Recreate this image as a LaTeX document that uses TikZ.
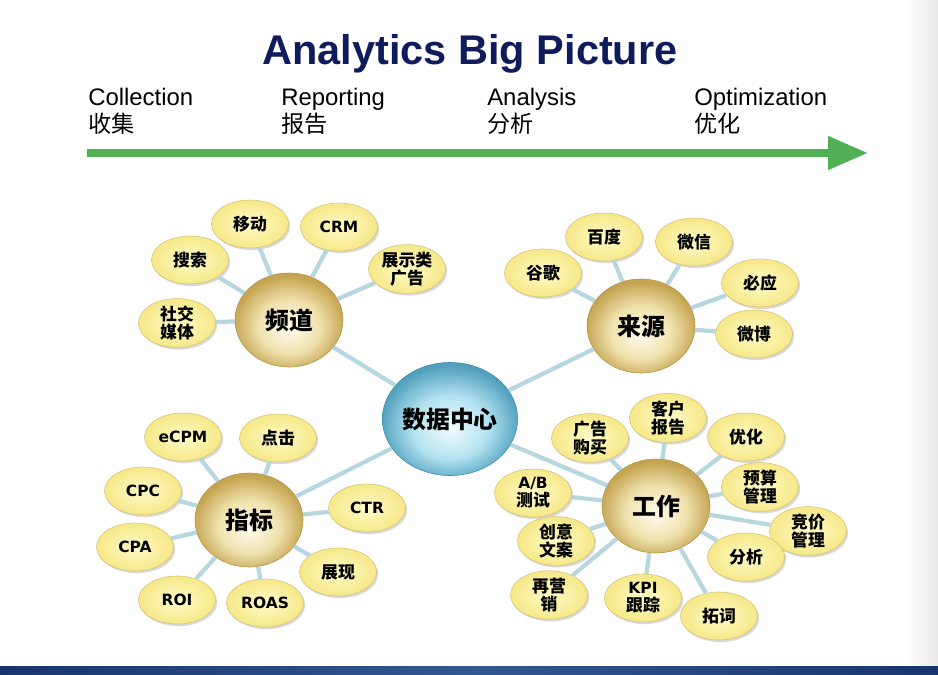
\documentclass[tikz,border=0pt]{standalone}
\usepackage{fontspec}
\setmainfont{Liberation Sans}
\newfontfamily\cjk{Noto Sans CJK SC}
\newfontfamily\verd{DejaVu Sans}
\usetikzlibrary{arrows.meta,shapes.geometric,shadows}
\definecolor{titleblue}{RGB}{14,28,92}
\definecolor{arrowgreen}{RGB}{82,176,84}
\definecolor{linkblue}{RGB}{182,214,224}
\definecolor{leafin}{RGB}{255,250,200}
\definecolor{leafout}{RGB}{246,232,136}
\definecolor{leafline}{RGB}{212,194,118}
\definecolor{gold0}{RGB}{255,251,238}
\definecolor{gold1}{RGB}{240,226,174}
\definecolor{gold2}{RGB}{196,164,80}
\definecolor{goldline}{RGB}{176,146,66}
\definecolor{blue0}{RGB}{240,251,253}
\definecolor{blue1}{RGB}{178,226,240}
\definecolor{blue2}{RGB}{80,160,190}
\definecolor{blueline}{RGB}{62,136,166}
\definecolor{band1}{RGB}{24,52,110}
\definecolor{band2}{RGB}{50,88,146}
\pgfdeclareradialshading{goldball}{\pgfpoint{0bp}{-5bp}}{color(0bp)=(gold0); color(14bp)=(gold1); color(26bp)=(gold2); color(50bp)=(gold2)}
\pgfdeclareradialshading{blueball}{\pgfpoint{0bp}{-5bp}}{color(0bp)=(blue0); color(14bp)=(blue1); color(26bp)=(blue2); color(50bp)=(blue2)}
\newcommand{\lat}[1]{{\verd\bfseries\fontsize{11}{13}\selectfont #1}}
\tikzset{
>=Stealth,
leaf/.style={ellipse,draw=leafline,thin,inner sep=0pt,minimum width=1.925cm,minimum height=1.2cm,
  inner color=leafin,outer color=leafout,drop shadow={shadow xshift=1.2pt,shadow yshift=-1.5pt,opacity=0.3},
  align=center,font=\cjk\bfseries\fontsize{12}{13}\selectfont},
hub/.style={ellipse,draw=goldline,inner sep=0pt,minimum width=2.7cm,minimum height=2.35cm,
  shading=goldball,font=\cjk\bfseries\fontsize{17}{20}\selectfont},
core/.style={ellipse,draw=blueline,inner sep=0pt,minimum width=3.25cm,minimum height=2.825cm,
  shading=blueball,font=\cjk\bfseries\fontsize{17}{20}\selectfont},
link/.style={line width=3pt,draw=linkblue},
stage/.style={anchor=base west,inner sep=0pt,font=\fontsize{17}{20}\selectfont},
stagecn/.style={anchor=base west,inner sep=0pt,font=\cjk\fontsize{16.5}{20}\selectfont},
flow/.style={line width=5.5pt,draw=arrowgreen,-{Triangle[length=1cm,width=0.8cm]}}}

\begin{document}
\begin{tikzpicture}[x=0.025cm,y=-0.025cm]
\useasboundingbox (0,0) rectangle (938,675);
\shade[left color=white,right color=black!9] (906,0) rectangle (938,666);
\shade[left color=band1,right color=band1,middle color=band2] (0,666) rectangle (938,675);

\node[anchor=base,inner sep=0pt,text=titleblue,font=\bfseries\fontsize{29.5}{34}\selectfont] (title) at (470,65) {Analytics Big Picture};

\node[stage] (col) at (88,106) {Collection};
\node[stage] (rep) at (281,106) {Reporting};
\node[stage] (ana) at (487,106) {Analysis};
\node[stage] (opt) at (694,106) {Optimization};
\node[stagecn] (colcn) at (88,133) {收集};
\node[stagecn] (repcn) at (281,133) {报告};
\node[stagecn] (anacn) at (487,133) {分析};
\node[stagecn] (optcn) at (694,133) {优化};

\coordinate (flowL) at (87,153);
\coordinate (flowR) at (868,153);
\draw[flow] (flowL) -- (flowR);

% centre and hubs
\node[core] (data) at (450,419) {数据中心};
\node[hub] (pd) at (289,320) {频道};
\node[hub] (ly) at (641,326) {来源};
\node[hub] (zb) at (249,520) {指标};
\node[hub] (gz) at (656,506) {工作};

% 频道
\node[leaf] (ss) at (190,260) {搜索};
\node[leaf] (yd) at (250,224) {移动};
\node[leaf] (crm) at (339,227) {\lat{CRM}};
\node[leaf] (zs) at (407,269) {展示类\\广告};
\node[leaf] (sj) at (177,323) {社交\\媒体};

% 来源
\node[leaf] (gg) at (543,273) {谷歌};
\node[leaf] (bd) at (604,237) {百度};
\node[leaf] (wx) at (694,242) {微信};
\node[leaf] (by) at (760,283) {必应};
\node[leaf] (wb) at (754,334) {微博};

% 指标
\node[leaf] (ecpm) at (183,437) {\lat{eCPM}};
\node[leaf] (dj) at (278,438) {点击};
\node[leaf] (cpc) at (143,491) {\lat{CPC}};
\node[leaf] (ctr) at (367,508) {\lat{CTR}};
\node[leaf] (cpa) at (135,547) {\lat{CPA}};
\node[leaf] (zx) at (338,572) {展现};
\node[leaf] (roi) at (177,600) {\lat{ROI}};
\node[leaf] (roas) at (265,603) {\lat{ROAS}};

% 工作
\node[leaf] (gm) at (590,438) {广告\\购买};
\node[leaf] (kh) at (668,418) {客户\\报告};
\node[leaf] (yh) at (746,437) {优化};
\node[leaf] (ys) at (760,487) {预算\\管理};
\node[leaf] (jj) at (808,531) {竞价\\管理};
\node[leaf] (fx) at (746,557) {分析};
\node[leaf] (ab) at (533,493) {\lat{A/B}\\测试};
\node[leaf] (cy) at (556,541) {创意\\文案};
\node[leaf] (zy) at (549,595) {再营\\销};
\node[leaf] (kpi) at (643,598) {\lat{KPI}\\跟踪};
\node[leaf] (tc) at (719,616) {拓词};

\path[link]
	(data) edge (pd)
	(data) edge (ly)
	(data) edge (zb)
	(data) edge (gz)
	(pd) edge (ss) (pd) edge (yd) (pd) edge (crm) (pd) edge (zs) (pd) edge (sj)
	(ly) edge (gg) (ly) edge (bd) (ly) edge (wx) (ly) edge (by) (ly) edge (wb)
	(zb) edge (ecpm) (zb) edge (dj) (zb) edge (cpc) (zb) edge (ctr)
	(zb) edge (cpa) (zb) edge (zx) (zb) edge (roi) (zb) edge (roas)
	(gz) edge (gm) (gz) edge (kh) (gz) edge (yh) (gz) edge (ys) (gz) edge (jj) (gz) edge (fx)
	(gz) edge (ab) (gz) edge (cy) (gz) edge (zy) (gz) edge (kpi) (gz) edge (tc);
\end{tikzpicture}
\end{document}
